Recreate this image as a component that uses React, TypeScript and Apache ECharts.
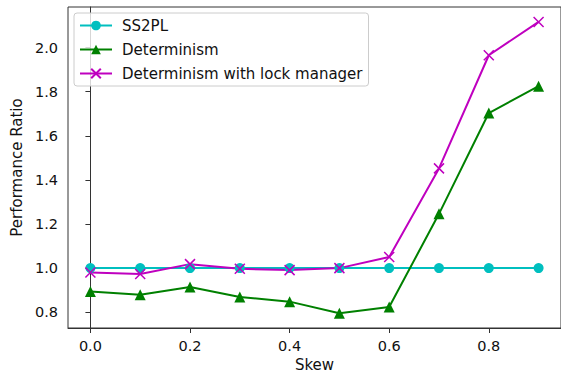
import React, { useEffect, useRef } from "react";
import * as echarts from "echarts";

const skew = [0.0, 0.1, 0.2, 0.3, 0.4, 0.5, 0.6, 0.7, 0.8, 0.9];
const ss2pl = [1.0, 1.0, 1.0, 1.0, 1.0, 1.0, 1.0, 1.0, 1.0, 1.0];
const determinism = [0.894, 0.879, 0.914, 0.869, 0.848, 0.795, 0.824, 1.246, 1.703, 1.825];
const detLock = [0.98, 0.973, 1.018, 0.997, 0.991, 1.0, 1.05, 1.452, 1.965, 2.116];
const xTicks = [0.0, 0.2, 0.4, 0.6, 0.8];
const yTicks = [0.8, 1.0, 1.2, 1.4, 1.6, 1.8, 2.0];
const seriesNames = ["SS2PL", "Determinism", "Determinism with lock manager"];

const FONT = "DejaVu Sans";

export default function App() {
  const ref = useRef<HTMLDivElement>(null);
  useEffect(() => {
    if (!ref.current) return;
    const chart = echarts.init(ref.current, null, { renderer: "svg" });
    const pair = (ys: number[]) => skew.map((x, i) => [x, ys[i]]);
    const axisCommon = {
      axisLine: { show: true, lineStyle: { color: "#333", width: 1 } },
      axisTick: { show: true, inside: false, length: 5, lineStyle: { color: "#333", width: 1 } },
      splitLine: { show: false },
      axisLabel: { color: "#111", fontSize: 14.5, fontFamily: FONT },
      nameTextStyle: { color: "#111", fontSize: 15, fontFamily: FONT },
    };
    chart.setOption({
      animation: false,
      backgroundColor: "#fff",
      grid: {
        left: 68,
        top: 7,
        right: 0,
        bottom: 46,
        outerBoundsMode: "none",
        containLabel: false,
        show: true,
        borderColor: "#333",
        borderWidth: 1,
        backgroundColor: "transparent",
      },
      legend: {
        orient: "vertical",
        left: 74,
        top: 13,
        padding: [5, 6, 5, 5],
        itemWidth: 32,
        itemHeight: 12,
        itemGap: 9,
        borderColor: "#ccc",
        borderWidth: 1,
        borderRadius: 3,
        backgroundColor: "rgba(255,255,255,0.8)",
        textStyle: { color: "#111", fontSize: 15, fontFamily: FONT, padding: [0, 0, 0, 5] },
        data: seriesNames,
      },
      xAxis: {
        type: "value",
        min: -0.045,
        max: 0.945,
        name: "Skew",
        nameLocation: "middle",
        nameGap: 29,
        ...axisCommon,
        axisTick: { ...axisCommon.axisTick, customValues: xTicks },
        axisLabel: {
          ...axisCommon.axisLabel,
          margin: 10,
          customValues: xTicks,
          formatter: (v: number) => v.toFixed(1),
        },
      },
      yAxis: {
        type: "value",
        min: 0.7285,
        max: 2.1837,
        name: "Performance Ratio",
        nameLocation: "middle",
        nameGap: 39,
        ...axisCommon,
        axisTick: { ...axisCommon.axisTick, customValues: yTicks },
        axisLabel: {
          ...axisCommon.axisLabel,
          margin: 10,
          customValues: yTicks,
          formatter: (v: number) => v.toFixed(1),
        },
      },
      series: [
        {
          name: seriesNames[0],
          type: "line",
          data: pair(ss2pl),
          symbol: "circle",
          symbolSize: 10,
          color: "#00bfbf",
          lineStyle: { width: 2, color: "#00bfbf" },
          itemStyle: { color: "#00bfbf" },
        },
        {
          name: seriesNames[1],
          type: "line",
          data: pair(determinism),
          symbol: "triangle",
          symbolSize: 11,
          color: "#008000",
          lineStyle: { width: 2, color: "#008000" },
          itemStyle: { color: "#008000" },
        },
        {
          name: seriesNames[2],
          type: "line",
          data: pair(detLock),
          symbol: "path://M0,0L10,10M10,0L0,10",
          symbolSize: 10,
          color: "#bf00bf",
          lineStyle: { width: 2, color: "#bf00bf" },
          itemStyle: { color: "#bf00bf", borderColor: "#bf00bf", borderWidth: 1.5 },
        },
      ],
    });
    return () => chart.dispose();
  }, []);
  return <div ref={ref} style={{ width: 561, height: 374, position: "absolute", left: 0, top: 0 }} />;
}
